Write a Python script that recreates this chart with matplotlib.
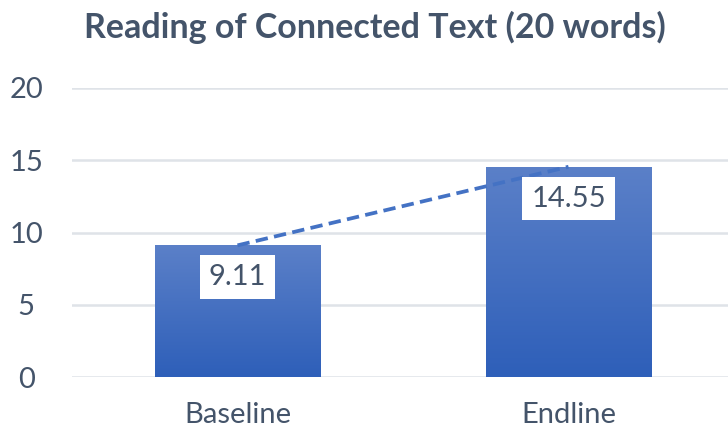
import numpy as np
import matplotlib.pyplot as plt
from matplotlib.colors import LinearSegmentedColormap

plt.rcParams['font.family'] = ['Lato', 'DejaVu Sans']

categories = ['Baseline', 'Endline']
values = [9.11, 14.55]
yticks = [0, 5, 10, 15, 20]
title = 'Reading of Connected Text (20 words)'

text_col = '#44546A'
grid_col = '#DFE3E8'

fig = plt.figure(figsize=(7.28, 4.34), dpi=100)
ax = fig.add_axes([72/728, 1-377/434, 662/728, 289/434])

x = np.arange(len(categories))
bars = ax.bar(x, values, width=0.5, color='#4472C4', zorder=2)

# gradient fill: lighter at top, darker at bottom
cmap = LinearSegmentedColormap.from_list('g', ['#2E5FB9', '#5B80C8'])
grad = np.linspace(0, 1, 256).reshape(-1, 1)
for b in bars:
    x0, w, h = b.get_x(), b.get_width(), b.get_height()
    im = ax.imshow(grad, cmap=cmap, aspect='auto', origin='lower',
                   extent=[x0, x0 + w, 0, h], zorder=2.1)
    im.set_clip_path(b)

# dashed line linking the bar tops
ax.plot(x, values, linestyle=(0, (3.3, 1.7)), color='#4472C4', lw=2.7, zorder=3)

for xi, v in zip(x, values):
    ax.text(xi, v - 2.2, f'{v:.2f}', ha='center', va='center', fontsize=21,
            color=text_col, zorder=4,
            bbox=dict(boxstyle='square,pad=0.3', fc='white', ec='none'))

ax.set_xlim(-0.5, 1.5)
ax.set_ylim(0, 20)
ax.set_yticks(yticks)
ax.set_xticks(x)
ax.set_xticklabels(categories)
ax.tick_params(axis='both', length=0, labelsize=21, colors=text_col)
ax.tick_params(axis='y', pad=33)
ax.tick_params(axis='x', pad=18)
for lbl in ax.get_yticklabels():
    lbl.set_horizontalalignment('center')
ax.grid(axis='y', color=grid_col, lw=1.8, zorder=0)
ax.set_axisbelow(True)
for s in ax.spines.values():
    s.set_visible(False)

fig.text(375/728, 1 - 27/434, title, ha='center', va='center', fontsize=24.5,
         fontweight='bold', color=text_col)

fig.savefig('out.png', dpi=100)
